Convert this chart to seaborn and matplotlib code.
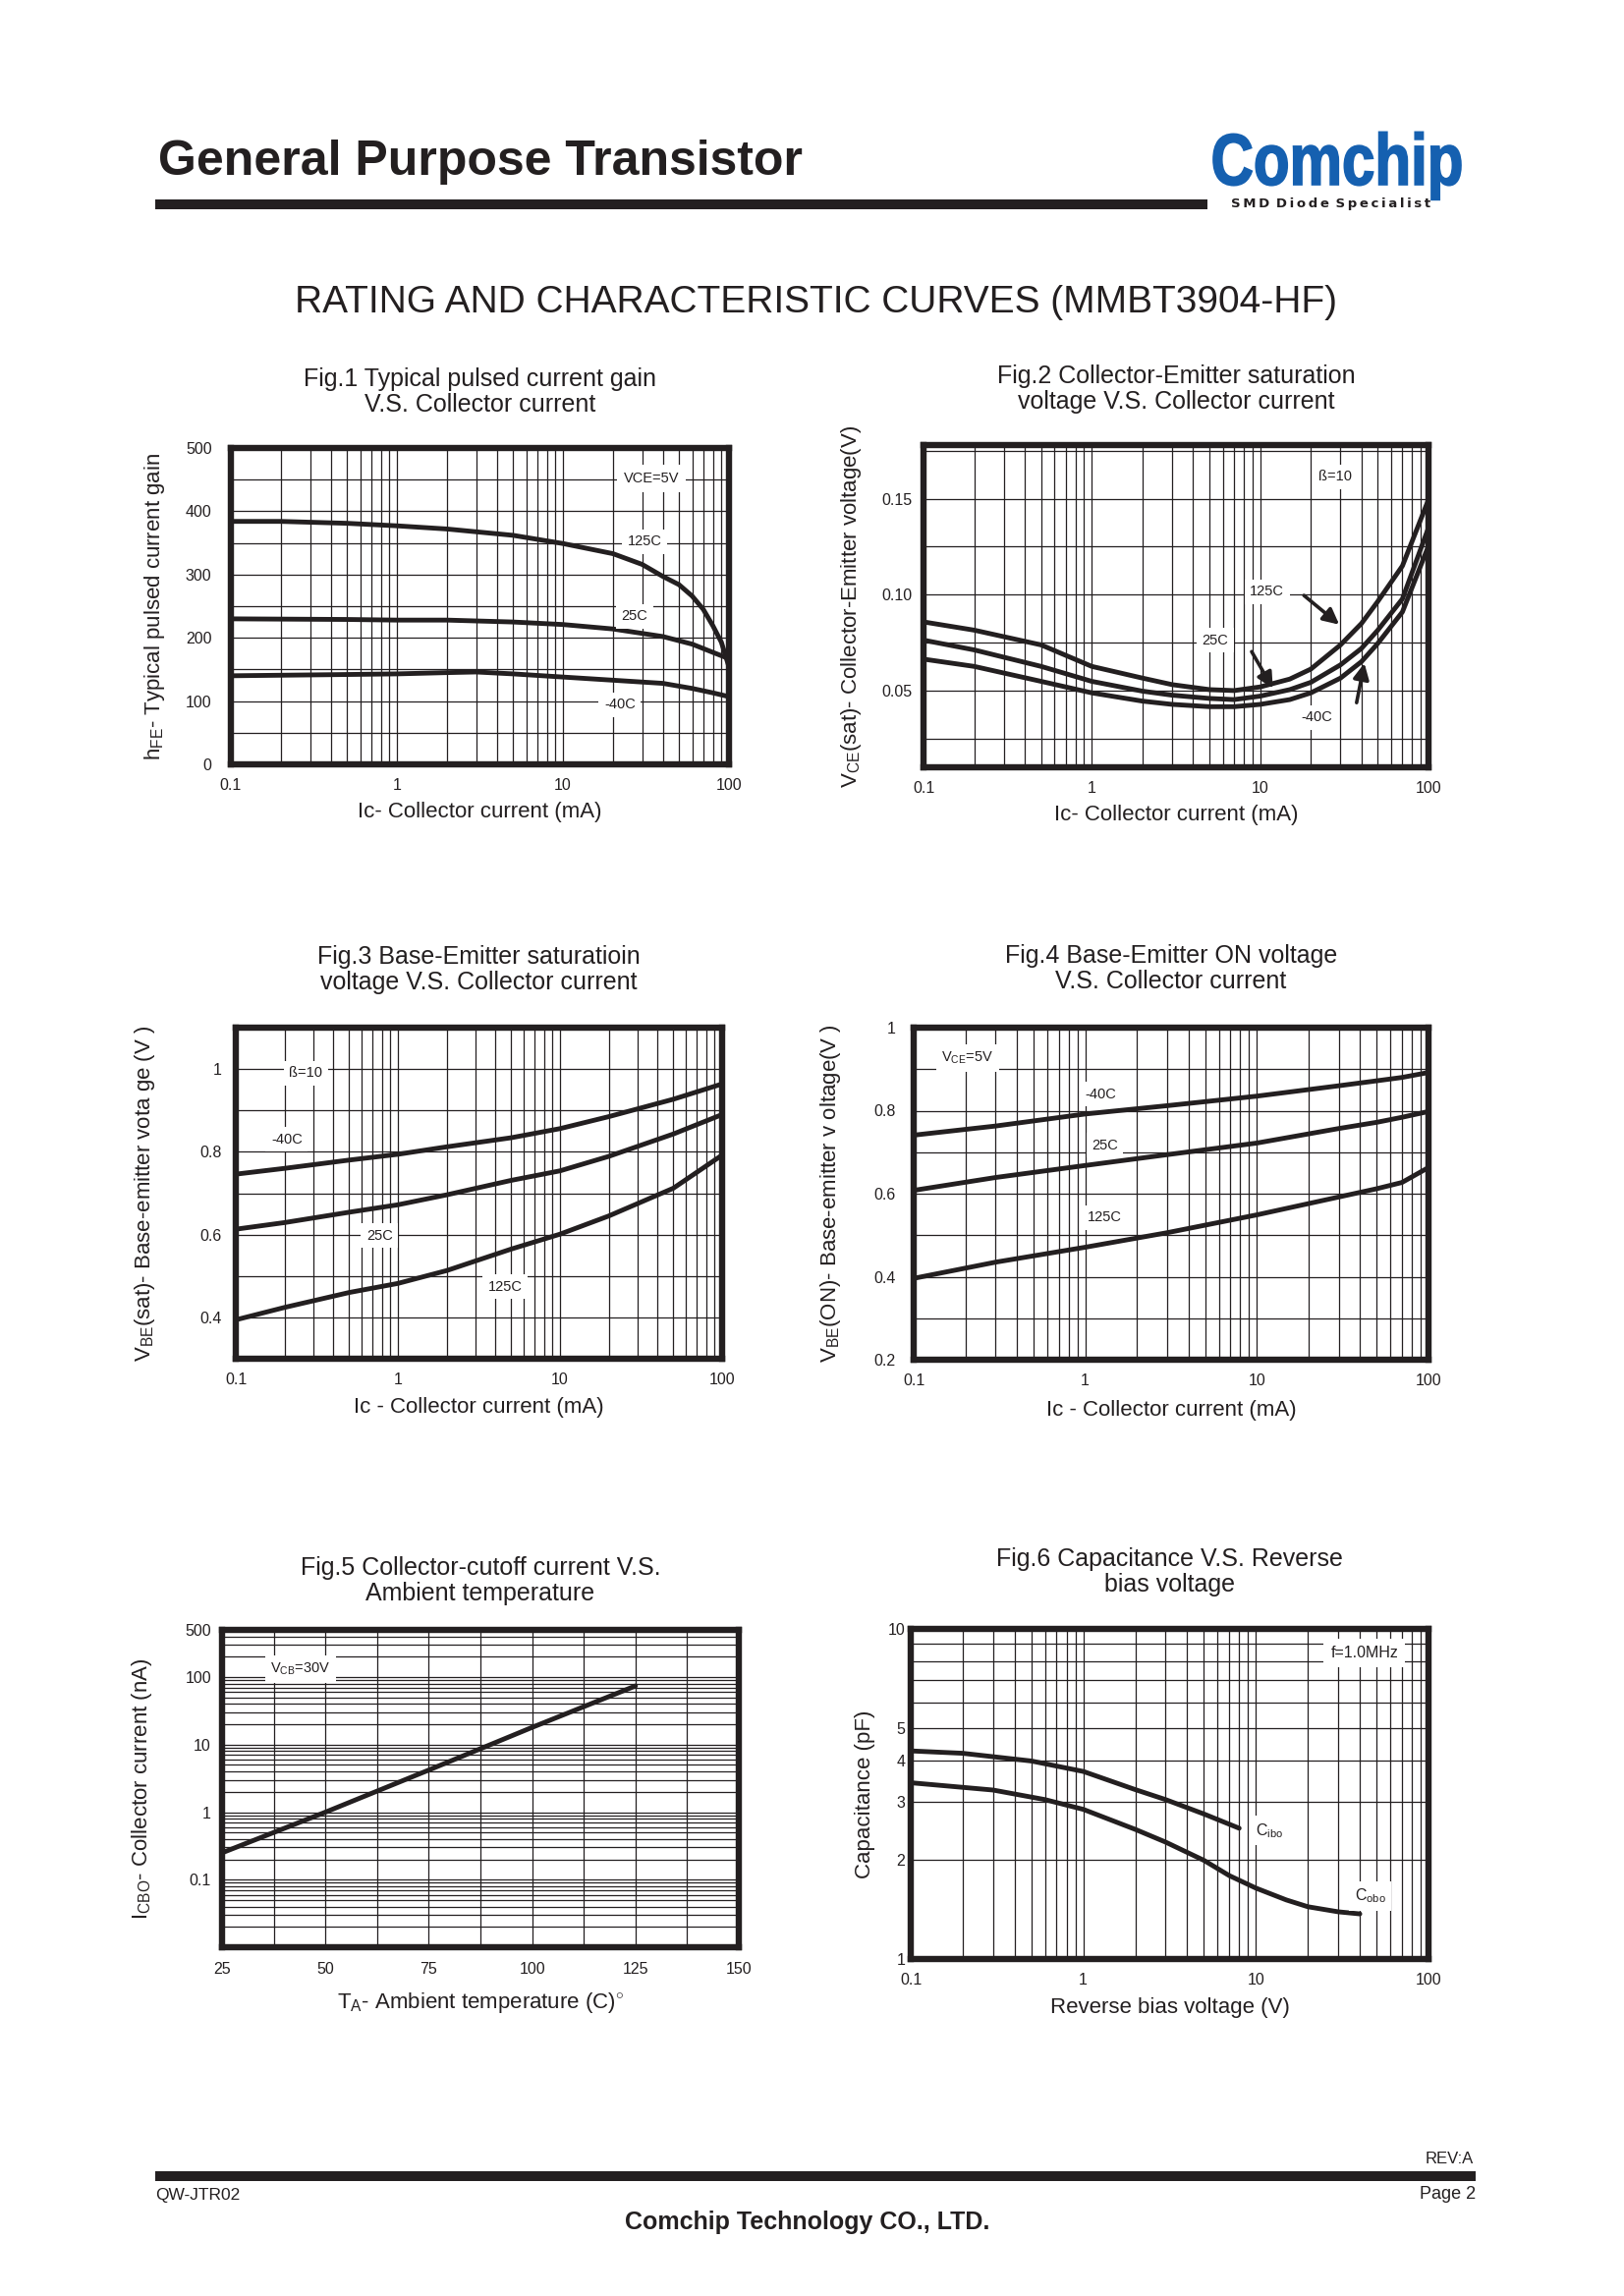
import numpy as np
import pandas as pd
import matplotlib
matplotlib.use("Agg")
import matplotlib.pyplot as plt
import seaborn as sns
from matplotlib.ticker import MultipleLocator, LogLocator, NullFormatter
from matplotlib.textpath import TextPath
from matplotlib.patches import PathPatch, Rectangle
from matplotlib.font_manager import FontProperties
from matplotlib.transforms import Affine2D

# ---------------- data ----------------
# Fig.1  hFE vs Ic
fig1_ic_125 = [0.1, 0.2, 0.5, 1, 2, 5, 10, 20, 30, 40, 50, 60, 70, 80, 90, 100]
fig1_hfe_125 = [384, 384, 381, 377, 372, 362, 349, 333, 316, 297, 284, 266, 245, 219, 193, 154]
fig1_ic_25 = [0.1, 0.5, 1, 2, 5, 10, 20, 40, 60, 80, 100]
fig1_hfe_25 = [230, 229, 228, 228, 225, 221, 214, 202, 190, 177, 167]
fig1_ic_m40 = [0.1, 0.5, 1, 2, 3, 5, 10, 20, 40, 60, 80, 100]
fig1_hfe_m40 = [140, 142, 143, 145, 146, 143, 138, 133, 128, 120, 113, 107]
fig1_yticks = [0, 100, 200, 300, 400, 500]

# Fig.2  VCE(sat) vs Ic
fig2_ic = [0.1, 0.2, 0.5, 1, 2, 3, 5, 7, 10, 15, 20, 30, 40, 50, 70, 100]
fig2_v_125 = [0.0858, 0.0815, 0.0738, 0.0626, 0.0565, 0.0531, 0.0505, 0.0500, 0.0519,
              0.0560, 0.0612, 0.0738, 0.0850, 0.0965, 0.1150, 0.1495]
fig2_v_25 = [0.0763, 0.0712, 0.0626, 0.0548, 0.0497, 0.0476, 0.0459, 0.0453, 0.0471,
             0.0505, 0.0543, 0.0634, 0.0720, 0.0815, 0.0978, 0.1349]
fig2_v_m40 = [0.0664, 0.0626, 0.0548, 0.0488, 0.0445, 0.0428, 0.0416, 0.0416, 0.0428,
              0.0453, 0.0488, 0.0565, 0.0651, 0.0746, 0.0910, 0.1254]
fig2_yticks = [0.05, 0.10, 0.15]
fig2_ylabels = ["0.05", "0.10", "0.15"]

# Fig.3  VBE(sat) vs Ic
fig3_ic = [0.1, 0.2, 0.5, 1, 2, 5, 10, 20, 50, 100]
fig3_v_m40 = [0.746, 0.760, 0.780, 0.794, 0.812, 0.834, 0.856, 0.885, 0.927, 0.964]
fig3_v_25 = [0.613, 0.629, 0.654, 0.672, 0.696, 0.731, 0.754, 0.789, 0.843, 0.890]
fig3_v_125 = [0.394, 0.424, 0.460, 0.482, 0.513, 0.565, 0.601, 0.645, 0.712, 0.792]
fig3_yticks = [0.4, 0.6, 0.8, 1.0]
fig3_ylabels = ["0.4", "0.6", "0.8", "1"]

# Fig.4  VBE(on) vs Ic
fig4_ic = [0.1, 0.3, 1, 3, 10, 30, 50, 70, 100]
fig4_v_m40 = [0.741, 0.763, 0.792, 0.812, 0.835, 0.860, 0.872, 0.880, 0.892]
fig4_v_25 = [0.608, 0.639, 0.668, 0.694, 0.722, 0.757, 0.772, 0.784, 0.798]
fig4_v_125 = [0.396, 0.435, 0.471, 0.506, 0.549, 0.592, 0.612, 0.627, 0.663]
fig4_yticks = [0.2, 0.4, 0.6, 0.8, 1.0]
fig4_ylabels = ["0.2", "0.4", "0.6", "0.8", "1"]

# Fig.5  ICBO vs TA
fig5_ta = [25, 50, 75, 100, 125]
fig5_icbo = [0.25, 1.0, 4.2, 18, 74]
fig5_xticks = [25, 50, 75, 100, 125, 150]
fig5_yticks = [0.1, 1, 10, 100, 500]
fig5_ylabels = ["0.1", "1", "10", "100", "500"]

# Fig.6  Capacitance vs reverse bias
fig6_v_cibo = [0.1, 0.2, 0.5, 1, 2, 3, 5, 8]
fig6_c_cibo = [4.27, 4.20, 3.98, 3.70, 3.26, 3.04, 2.75, 2.49]
fig6_v_cobo = [0.1, 0.3, 0.6, 1, 2, 3, 5, 7, 10, 15, 20, 30, 40]
fig6_c_cobo = [3.42, 3.25, 3.04, 2.84, 2.47, 2.26, 1.99, 1.79, 1.64, 1.51, 1.44, 1.39, 1.37]
fig6_yticks = [1, 2, 3, 4, 5, 10]

log_xticks = [0.1, 1, 10, 100]
log_xlabels = ["0.1", "1", "10", "100"]

# ---------------- style ----------------
sns.set_style("white")
plt.rcParams['font.family'] = ['Liberation Sans', 'DejaVu Sans']
plt.rcParams['mathtext.fontset'] = 'custom'
plt.rcParams['mathtext.rm'] = 'Liberation Sans'
plt.rcParams['mathtext.it'] = 'Liberation Sans:italic'
plt.rcParams['mathtext.bf'] = 'Liberation Sans:bold'

INK = '#231f20'
BLUE = '#1560b0'
W, H, DPI = 1653, 2337, 100
fig = plt.figure(figsize=(W / DPI, H / DPI), dpi=DPI)
fig.patch.set_facecolor('white')


def add_ax(left, right, top, bottom):
    return fig.add_axes([left / W, 1 - bottom / H, (right - left) / W, (bottom - top) / H])


def style_ax(ax, ypad=8, xpad=10):
    for s in ax.spines.values():
        s.set_linewidth(4.6)
        s.set_color(INK)
    ax.tick_params(which='both', length=0, labelsize=11.5, colors=INK)
    ax.tick_params(axis='y', pad=ypad)
    ax.tick_params(axis='x', pad=xpad)
    ax.grid(which='both', color=INK, lw=0.9)
    ax.set_axisbelow(True)


def log_x(ax):
    ax.set_xscale('log')
    ax.set_xlim(0.1, 100)
    ax.set_xticks(log_xticks, log_xlabels)
    ax.xaxis.set_minor_locator(LogLocator(base=10, subs=range(2, 10)))
    ax.xaxis.set_minor_formatter(NullFormatter())


def curve(ax, x, y):
    sns.lineplot(x=x, y=y, ax=ax, color=INK, linewidth=3.5, estimator=None, sort=False, zorder=4)


def note(ax, x, y, s, fs=10.5, pad=4):
    ax.text(x, y, s, ha='center', va='center', fontsize=fs, color=INK, zorder=5,
            bbox=dict(fc='white', ec='none', pad=pad))


def titles(ax, text, gap):
    pos = ax.get_position()
    cx = (pos.x0 + pos.x1) / 2
    ty = pos.y1 + gap / H
    fig.text(cx, ty, text, ha='center', va='center', fontsize=18, color=INK, linespacing=1.12)


def labels(ax, xl, yl, xoff, yoff, fs=16):
    ax.set_xlabel(xl, fontsize=fs, color=INK)
    ax.set_ylabel(yl, fontsize=fs, color=INK)
    ax.xaxis.set_label_coords(0.5, xoff)
    ax.yaxis.set_label_coords(yoff, 0.5)


# ---------------- Fig.1 ----------------
ax1 = add_ax(235, 742, 456, 778)
style_ax(ax1, ypad=14)
log_x(ax1)
ax1.set_ylim(0, 500)
ax1.set_yticks(fig1_yticks, [str(v) for v in fig1_yticks])
ax1.yaxis.set_minor_locator(MultipleLocator(50))
curve(ax1, fig1_ic_125, fig1_hfe_125)
curve(ax1, fig1_ic_25, fig1_hfe_25)
curve(ax1, fig1_ic_m40, fig1_hfe_m40)
note(ax1, 34, 452, "VCE=5V", pad=5)
note(ax1, 31, 352, "125C")
note(ax1, 27, 234, "25C")
note(ax1, 22, 94, "-40C")
titles(ax1, "Fig.1 Typical pulsed current gain\nV.S. Collector current", 57)
labels(ax1, "Ic- Collector current (mA)", r"h$_{\mathrm{FE}}$- Typical pulsed current gain", -0.118, -0.128)

# ---------------- Fig.2 ----------------
ax2 = add_ax(940, 1454, 453, 781)
style_ax(ax2, ypad=8)
log_x(ax2)
ax2.set_ylim(0.01, 0.178)
ax2.set_yticks(fig2_yticks, fig2_ylabels)
ax2.yaxis.set_minor_locator(MultipleLocator(0.025))
curve(ax2, fig2_ic, fig2_v_125)
curve(ax2, fig2_ic, fig2_v_25)
curve(ax2, fig2_ic, fig2_v_m40)
note(ax2, 28, 0.1615, "ß=10")
note(ax2, 11, 0.1016, "125C")
note(ax2, 5.4, 0.0763, "25C")
note(ax2, 21.7, 0.0359, "-40C")
arw = dict(arrowstyle='-|>', lw=2.6, color=INK, mutation_scale=24, shrinkA=0, shrinkB=0)
ax2.annotate('', xy=(29.5, 0.0844), xytext=(18.2, 0.0996), arrowprops=arw, zorder=6)
ax2.annotate('', xy=(11.9, 0.0511), xytext=(8.9, 0.0703), arrowprops=arw, zorder=6)
ax2.annotate('', xy=(41.6, 0.0643), xytext=(37.4, 0.0437), arrowprops=arw, zorder=6)
titles(ax2, "Fig.2 Collector-Emitter saturation\nvoltage V.S. Collector current", 57)
labels(ax2, "Ic- Collector current (mA)", r"V$_{\mathrm{CE}}$(sat)- Collector-Emitter voltage(V)", -0.116, -0.119)

# ---------------- Fig.3 ----------------
ax3 = add_ax(240, 735, 1046, 1383)
style_ax(ax3, ypad=10)
log_x(ax3)
ax3.set_ylim(0.3, 1.1)
ax3.set_yticks(fig3_yticks, fig3_ylabels)
ax3.yaxis.set_minor_locator(MultipleLocator(0.1))
curve(ax3, fig3_ic, fig3_v_m40)
curve(ax3, fig3_ic, fig3_v_25)
curve(ax3, fig3_ic, fig3_v_125)
note(ax3, 0.27, 0.99, "ß=10")
note(ax3, 0.206, 0.83, "-40C")
note(ax3, 0.77, 0.597, "25C")
note(ax3, 4.6, 0.474, "125C")
titles(ax3, "Fig.3 Base-Emitter saturatioin\nvoltage V.S. Collector current", 59)
labels(ax3, "Ic - Collector current (mA)", r"V$_{\mathrm{BE}}$(sat)- Base-emitter vota ge (V )", -0.116, -0.162)

# ---------------- Fig.4 ----------------
ax4 = add_ax(930, 1454, 1046, 1384)
style_ax(ax4, ypad=13)
log_x(ax4)
ax4.set_ylim(0.2, 1.0)
ax4.set_yticks(fig4_yticks, fig4_ylabels)
ax4.yaxis.set_minor_locator(MultipleLocator(0.1))
curve(ax4, fig4_ic, fig4_v_m40)
curve(ax4, fig4_ic, fig4_v_25)
curve(ax4, fig4_ic, fig4_v_125)
note(ax4, 0.206, 0.927, r"V$_{\mathrm{CE}}$=5V")
note(ax4, 1.23, 0.84, "-40C")
note(ax4, 1.3, 0.717, "25C")
note(ax4, 1.3, 0.543, "125C")
titles(ax4, "Fig.4 Base-Emitter ON voltage\nV.S. Collector current", 60)
labels(ax4, "Ic - Collector current (mA)", r"V$_{\mathrm{BE}}$(ON)- Base-emitter v oltage(V )", -0.121, -0.137)

# ---------------- Fig.5 ----------------
ax5 = add_ax(226, 752, 1659, 1982)
style_ax(ax5, ypad=8, xpad=11)
ax5.set_yscale('log')
ax5.set_xlim(25, 150)
ax5.set_ylim(0.01, 500)
ax5.set_xticks(fig5_xticks, [str(v) for v in fig5_xticks])
ax5.xaxis.set_minor_locator(MultipleLocator(12.5))
ax5.set_yticks(fig5_yticks, fig5_ylabels)
ax5.yaxis.set_minor_locator(LogLocator(base=10, subs=range(2, 10)))
ax5.yaxis.set_minor_formatter(NullFormatter())
curve(ax5, fig5_ta, fig5_icbo)
note(ax5, 44, 130, r"V$_{\mathrm{CB}}$=30V")
titles(ax5, "Fig.5 Collector-cutoff current V.S.\nAmbient temperature", 50)
labels(ax5, r"T$_{\mathrm{A}}$- Ambient temperature (C)$^{\circ}$",
       r"I$_{\mathrm{CBO}}$- Collector current (nA)", -0.136, -0.131)

# ---------------- Fig.6 ----------------
ax6 = add_ax(927, 1454, 1658, 1994)
style_ax(ax6, ypad=4)
log_x(ax6)
ax6.set_yscale('log')
ax6.set_ylim(1, 10)
ax6.set_yticks(fig6_yticks, [str(v) for v in fig6_yticks])
ax6.yaxis.set_minor_locator(LogLocator(base=10, subs=range(2, 10)))
ax6.yaxis.set_minor_formatter(NullFormatter())
curve(ax6, fig6_v_cibo, fig6_c_cibo)
curve(ax6, fig6_v_cobo, fig6_c_cobo)
note(ax6, 11.9, 2.45, r"C$_{\mathrm{ibo}}$", fs=11.5)
note(ax6, 46, 1.55, r"C$_{\mathrm{obo}}$", fs=11.5)
note(ax6, 42.5, 8.46, "f=1.0MHz", fs=11.5, pad=5)
titles(ax6, "Fig.6 Capacitance V.S. Reverse\nbias voltage", 58)
labels(ax6, "Reverse bias voltage (V)", "Capacitance (pF)", -0.116, -0.068)

# ---------------- page header ----------------
fig.text(161 / W, 1 - 165 / H, "General Purpose Transistor", fontsize=36, weight='bold',
         color=INK, ha='left', va='center')
fig.add_artist(Rectangle((158 / W, 1 - 213 / H), (1229 - 158) / W, 10 / H,
                         transform=fig.transFigure, fc=INK, ec='none'))
fp = FontProperties(family=['Liberation Sans'], weight='bold')
tp = TextPath((0, 0), "Comchip", size=1, prop=fp)
ext = tp.get_extents()
sx = (1487 - 1235) / ext.width
sy = 74
tx = 1235 - ext.x0 * sx
ty = H - 188
tr = Affine2D().scale(sx, sy).translate(tx, ty).scale(1 / DPI) + fig.dpi_scale_trans
fig.add_artist(PathPatch(tp, transform=tr, fc=BLUE, ec=BLUE, lw=1.2))
ts = "\u2009"
smd = "\u2002".join(ts.join(w) for w in ["SMD", "Diode", "Specialist"])
fig.text(1253 / W, 1 - 208 / H, smd, fontsize=9.5,
         weight='bold', color=INK, ha='left', va='center', family='DejaVu Sans')

fig.text(830 / W, 1 - 308 / H, "RATING AND CHARACTERISTIC CURVES (MMBT3904-HF)",
         fontsize=28, color=INK, ha='center', va='center')

# ---------------- page footer ----------------
fig.text(1500 / W, 1 - 2198 / H, "REV:A", fontsize=12, color=INK, ha='right', va='center')
fig.add_artist(Rectangle((158 / W, 1 - 2220 / H), (1502 - 158) / W, 10 / H,
                         transform=fig.transFigure, fc=INK, ec='none'))
fig.text(158 / W, 1 - 2234 / H, "QW-JTR02", fontsize=12.5, color=INK, ha='left', va='center')
fig.text(1502 / W, 1 - 2234 / H, "Page 2", fontsize=13, color=INK, ha='right', va='center')
fig.text(822 / W, 1 - 2262 / H, "Comchip Technology CO., LTD.", fontsize=18, weight='bold',
         color=INK, ha='center', va='center')

fig.savefig("out.png", dpi=DPI, facecolor='white')
